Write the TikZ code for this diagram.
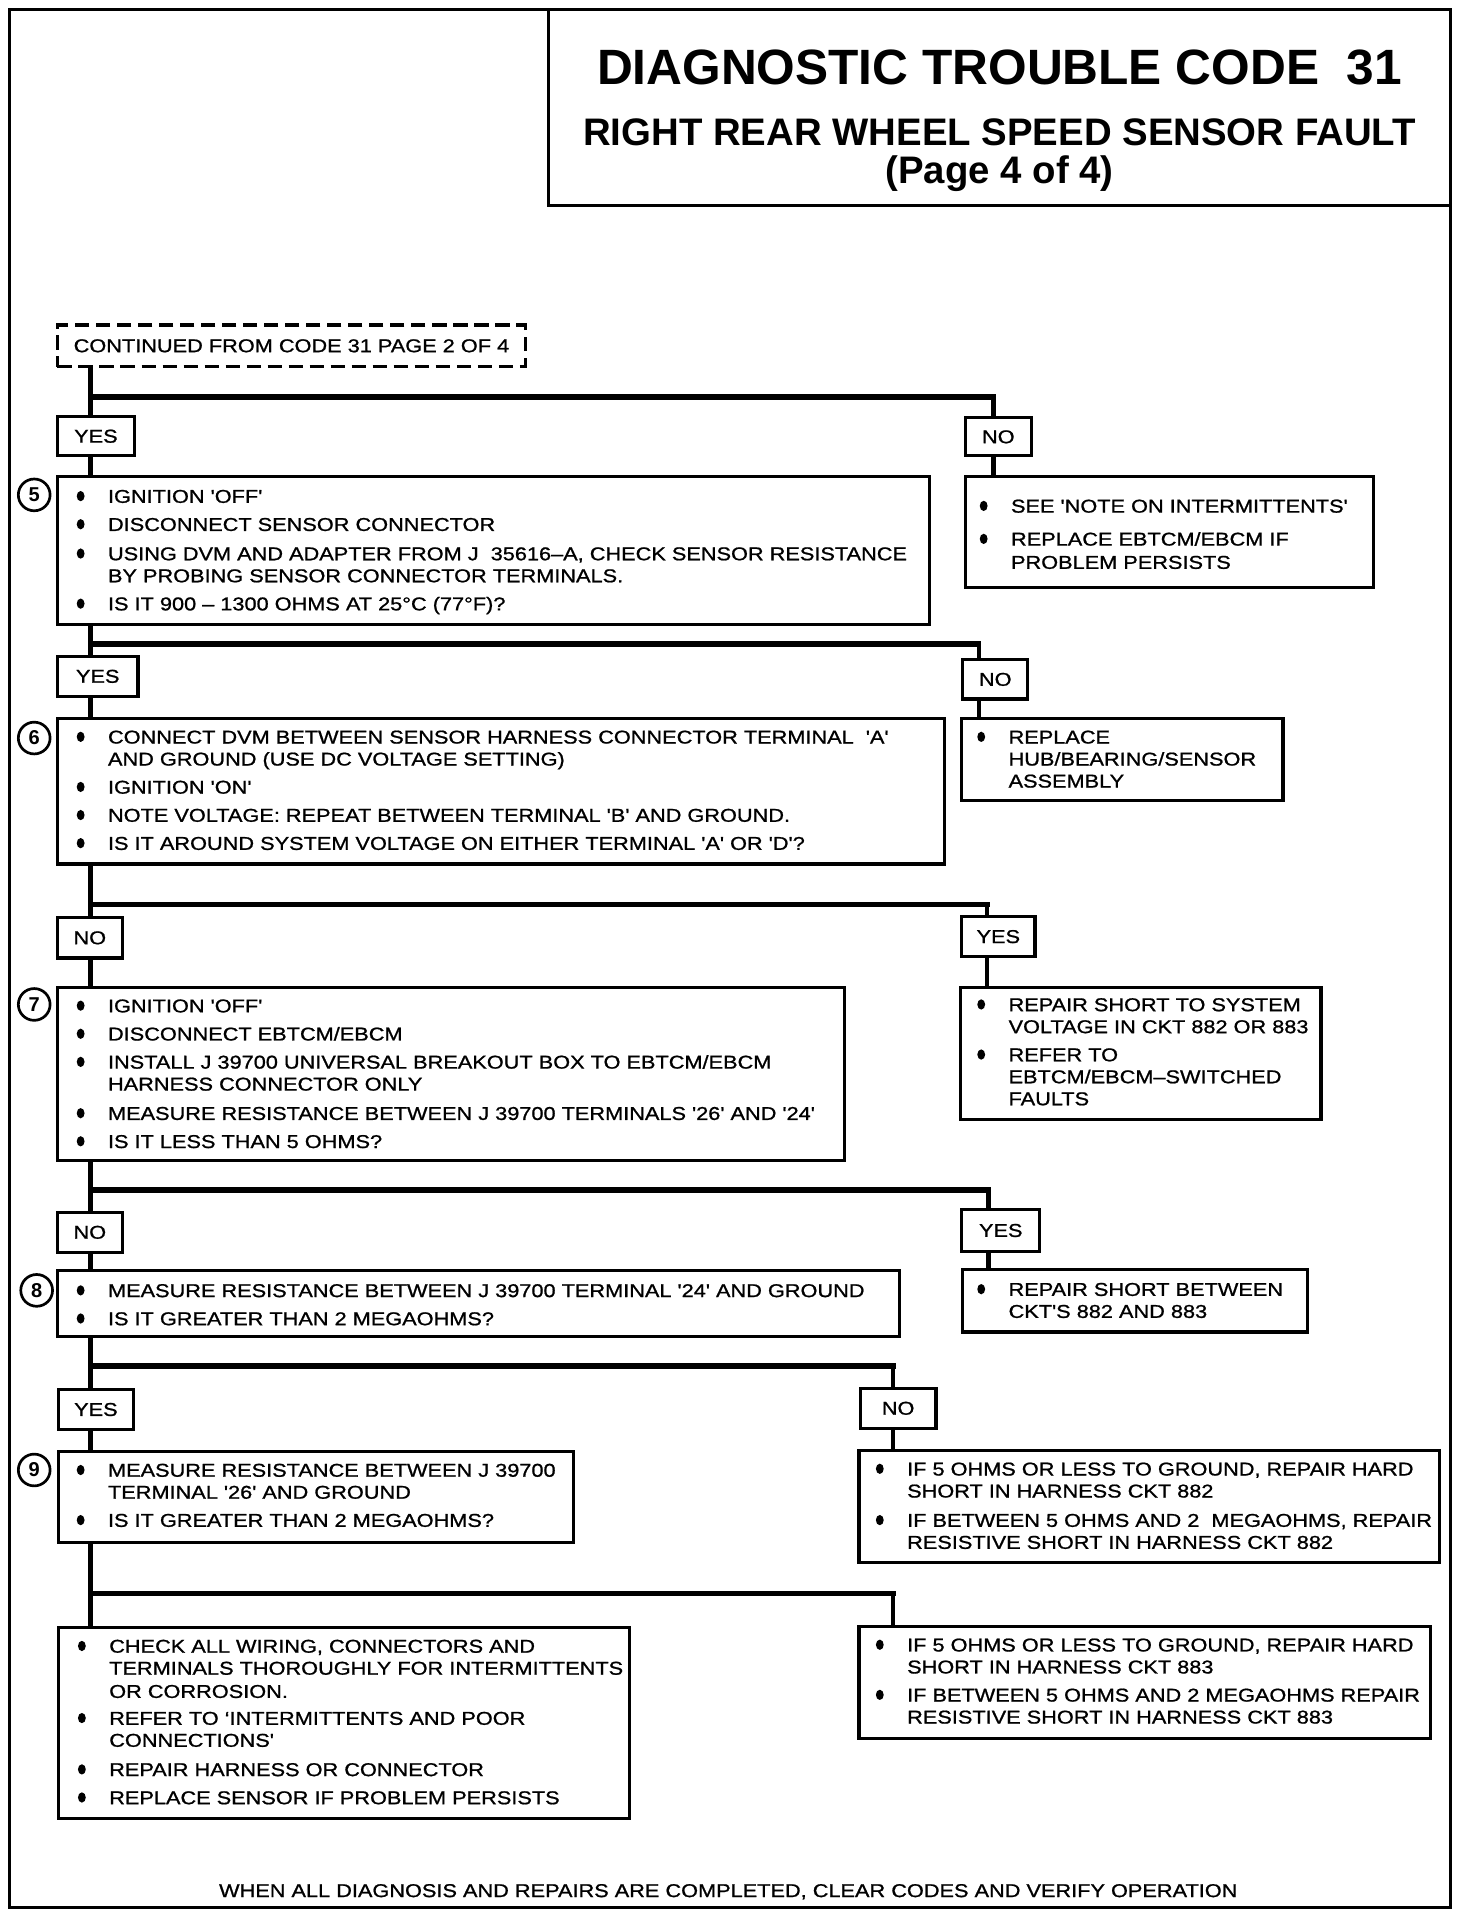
\documentclass[tikz,border=0pt]{standalone}
\usepackage{fontspec}
\setmainfont{Liberation Sans}
\newfontfamily\bodyf{Liberation Sans}[FakeStretch=1.17, FakeBold=1]
\usetikzlibrary{fit}
\newcommand\bodysize{\bodyf\fontsize{7.6}{9}\selectfont}
\tikzset{
  box/.style={draw, line width=1.3pt, inner sep=0pt},
  lab/.style={box, label={[font=\bodysize, inner sep=0pt]center:#1}},
  dbox/.style={draw, line width=1.4pt, dash pattern=on 6pt off 2.6pt, inner sep=0pt},
  txt/.style={anchor=base west, inner sep=0pt, font=\bodysize},
  conn/.style={line width=1.7pt},
  bar/.style={line width=2.2pt, line cap=rect},
  num/.style={draw, circle, line width=1.1pt, minimum size=13pt, inner sep=0pt, font=\bfseries\fontsize{8.2}{9}\selectfont},
}
\newcommand\itemline[3]{\fill (#1-22,#2) ellipse (1.6pt and 2.1pt); \node[txt] (t#1x#2) at (#1,#2+5.5) {#3};}
\newcommand\contline[3]{\node[txt] (t#1x#2) at (#1,#2+5.5) {#3};}
\begin{document}
\begin{tikzpicture}[x=0.5pt, y=-0.5pt]
\useasboundingbox (0,0) rectangle (1205,1568);
% frame and title
\draw[line width=1.2pt] (8,8) rectangle (1187,1561);
\node[box, fit={(449,8) (1187,168)}] (tbox) {};
\node[anchor=base, inner sep=0pt, font=\bfseries\fontsize{20.3}{22}\selectfont] (title) at (818,69.5) {DIAGNOSTIC TROUBLE CODE~~31};
\node[anchor=base, inner sep=0pt, font=\bfseries\fontsize{15.7}{18}\selectfont] (sub) at (818,119) {RIGHT REAR WHEEL SPEED SENSOR FAULT};
\node[anchor=base, inner sep=0pt, font=\bfseries\fontsize{15.7}{18}\selectfont] (page) at (818,150) {(Page 4 of 4)};

% continued
\node[dbox, fit={(47,266) (430,300)}, label={[font=\bodysize, inner sep=0pt]center:CONTINUED FROM CODE 31 PAGE 2 OF 4}] (cont) {};

% branch 1
\node[lab=YES, fit={(47,341) (110,373)}] (yes1) {};
\node[lab=NO, fit={(790,342) (844,373)}] (no1) {};
\node[box, fit={(47,390) (761,511)}] (b5) {};
\node[box, fit={(790,390) (1124,481)}] (r5) {};
\node[num] (c5) at (28,405) {5};
\coordinate (j1) at (74,325); \coordinate (k1) at (813,325);
\draw[conn] (cont.south -| j1) -- (yes1.north -| j1);
\draw[bar] (j1) -- (k1);
\draw[conn] (k1) -- (no1.north -| k1);
\draw[conn] (yes1.south -| j1) -- (b5.north -| j1);
\draw[conn] (no1.south -| k1) -- (r5.north -| k1);
\itemline{88}{406}{IGNITION 'OFF'}
\itemline{88}{429}{DISCONNECT SENSOR CONNECTOR}
\itemline{88}{453}{USING DVM AND ADAPTER FROM J~~35616–A, CHECK SENSOR RESISTANCE}
\contline{88}{471}{BY PROBING SENSOR CONNECTOR TERMINALS.}
\itemline{88}{494}{IS IT 900 – 1300 OHMS AT 25°C (77°F)?}
\itemline{827}{414}{SEE 'NOTE ON INTERMITTENTS'}
\itemline{827}{441}{REPLACE EBTCM/EBCM IF}
\contline{827}{460}{PROBLEM PERSISTS}

% branch 2
\node[lab=YES, fit={(47,537) (113,570)}] (yes2) {};
\node[lab=NO, fit={(788,540) (841,572)}] (no2) {};
\node[box, fit={(47,588) (773,707)}] (b6) {};
\node[box, fit={(787,588) (1050,655)}] (r6) {};
\node[num] (c6) at (28,604) {6};
\coordinate (j2) at (74,527); \coordinate (k2) at (801,527);
\draw[conn] (b5.south -| j2) -- (yes2.north -| j2);
\draw[bar] (j2) -- (k2);
\draw[conn] (k2) -- (no2.north -| k2);
\draw[conn] (yes2.south -| j2) -- (b6.north -| j2);
\draw[conn] (no2.south -| k2) -- (r6.north -| k2);
\itemline{88}{603}{CONNECT DVM BETWEEN SENSOR HARNESS CONNECTOR TERMINAL~~'A'}
\contline{88}{621}{AND GROUND (USE DC VOLTAGE SETTING)}
\itemline{88}{644}{IGNITION 'ON'}
\itemline{88}{667}{NOTE VOLTAGE: REPEAT BETWEEN TERMINAL 'B' AND GROUND.}
\itemline{88}{690}{IS IT AROUND SYSTEM VOLTAGE ON EITHER TERMINAL 'A' OR 'D'?}
\itemline{825}{603}{REPLACE}
\contline{825}{621}{HUB/BEARING/SENSOR}
\contline{825}{639}{ASSEMBLY}

% branch 3
\node[lab=NO, fit={(47,751) (100,784)}] (no3) {};
\node[lab=YES, fit={(787,750) (847,783)}] (yes3) {};
\node[box, fit={(47,808) (691,950)}] (b7) {};
\node[box, fit={(786,808) (1081,916)}] (r7) {};
\node[num] (c7) at (28,822) {7};
\coordinate (j3) at (74,740); \coordinate (k3) at (808,740);
\draw[conn] (b6.south -| j3) -- (no3.north -| j3);
\draw[bar] (j3) -- (k3);
\draw[conn] (k3) -- (yes3.north -| k3);
\draw[conn] (no3.south -| j3) -- (b7.north -| j3);
\draw[conn] (yes3.south -| k3) -- (r7.north -| k3);
\itemline{88}{823}{IGNITION 'OFF'}
\itemline{88}{846}{DISCONNECT EBTCM/EBCM}
\itemline{88}{869}{INSTALL J 39700 UNIVERSAL BREAKOUT BOX TO EBTCM/EBCM}
\contline{88}{887}{HARNESS CONNECTOR ONLY}
\itemline{88}{911}{MEASURE RESISTANCE BETWEEN J 39700 TERMINALS '26' AND '24'}
\itemline{88}{934}{IS IT LESS THAN 5 OHMS?}
\itemline{825}{822}{REPAIR SHORT TO SYSTEM}
\contline{825}{840}{VOLTAGE IN CKT 882 OR 883}
\itemline{825}{863}{REFER TO}
\contline{825}{881}{EBTCM/EBCM–SWITCHED}
\contline{825}{899}{FAULTS}

% branch 4
\node[lab=NO, fit={(47,992) (100,1025)}] (no4) {};
\node[lab=YES, fit={(787,990) (851,1024)}] (yes4) {};
\node[box, fit={(47,1040) (736,1094)}] (b8) {};
\node[box, fit={(788,1039) (1070,1090)}] (r8) {};
\node[num] (c8) at (30,1056) {8};
\coordinate (j4) at (74,974); \coordinate (k4) at (809,974);
\draw[conn] (b7.south -| j4) -- (no4.north -| j4);
\draw[bar] (j4) -- (k4);
\draw[conn] (k4) -- (yes4.north -| k4);
\draw[conn] (no4.south -| j4) -- (b8.north -| j4);
\draw[conn] (yes4.south -| k4) -- (r8.north -| k4);
\itemline{88}{1056}{MEASURE RESISTANCE BETWEEN J 39700 TERMINAL '24' AND GROUND}
\itemline{88}{1079}{IS IT GREATER THAN 2 MEGAOHMS?}
\itemline{825}{1055}{REPAIR SHORT BETWEEN}
\contline{825}{1073}{CKT'S 882 AND 883}

% branch 5
\node[lab=YES, fit={(48,1137) (109,1170)}] (yes5) {};
\node[lab=NO, fit={(704,1136) (766,1169)}] (no5) {};
\node[box, fit={(48,1188) (469,1262)}] (b9) {};
\node[box, fit={(703,1187) (1178,1279)}] (r9) {};
\node[num] (c9) at (28,1203) {9};
\coordinate (j5) at (74,1118); \coordinate (k5) at (731,1118);
\draw[conn] (b8.south -| j5) -- (yes5.north -| j5);
\draw[bar] (j5) -- (k5);
\draw[conn] (k5) -- (no5.north -| k5);
\draw[conn] (yes5.south -| j5) -- (b9.north -| j5);
\draw[conn] (no5.south -| k5) -- (r9.north -| k5);
\itemline{88}{1203}{MEASURE RESISTANCE BETWEEN J 39700}
\contline{88}{1221}{TERMINAL '26' AND GROUND}
\itemline{88}{1244}{IS IT GREATER THAN 2 MEGAOHMS?}
\itemline{742}{1202}{IF 5 OHMS OR LESS TO GROUND, REPAIR HARD}
\contline{742}{1220}{SHORT IN HARNESS CKT 882}
\itemline{742}{1244}{IF BETWEEN 5 OHMS AND 2~~MEGAOHMS, REPAIR}
\contline{742}{1262}{RESISTIVE SHORT IN HARNESS CKT 882}

% branch 6
\node[box, fit={(48,1332) (515,1488)}] (fl) {};
\node[box, fit={(703,1331) (1171,1423)}] (fr) {};
\coordinate (j6) at (74,1304); \coordinate (k6) at (731,1304);
\draw[conn] (b9.south -| j6) -- (fl.north -| j6);
\draw[bar] (j6) -- (k6);
\draw[conn] (k6) -- (fr.north -| k6);
\itemline{89}{1347}{CHECK ALL WIRING, CONNECTORS AND}
\contline{89}{1365}{TERMINALS THOROUGHLY FOR INTERMITTENTS}
\contline{89}{1384}{OR CORROSION.}
\itemline{89}{1406}{REFER TO ‘INTERMITTENTS AND POOR}
\contline{89}{1424}{CONNECTIONS'}
\itemline{89}{1448}{REPAIR HARNESS OR CONNECTOR}
\itemline{89}{1471}{REPLACE SENSOR IF PROBLEM PERSISTS}
\itemline{742}{1346}{IF 5 OHMS OR LESS TO GROUND, REPAIR HARD}
\contline{742}{1364}{SHORT IN HARNESS CKT 883}
\itemline{742}{1387}{IF BETWEEN 5 OHMS AND 2 MEGAOHMS REPAIR}
\contline{742}{1405}{RESISTIVE SHORT IN HARNESS CKT 883}

% footer
\node[anchor=base, inner sep=0pt, font=\bodysize] (foot) at (596,1552.5) {WHEN ALL DIAGNOSIS AND REPAIRS ARE COMPLETED, CLEAR CODES AND VERIFY OPERATION};
\end{tikzpicture}
\end{document}
